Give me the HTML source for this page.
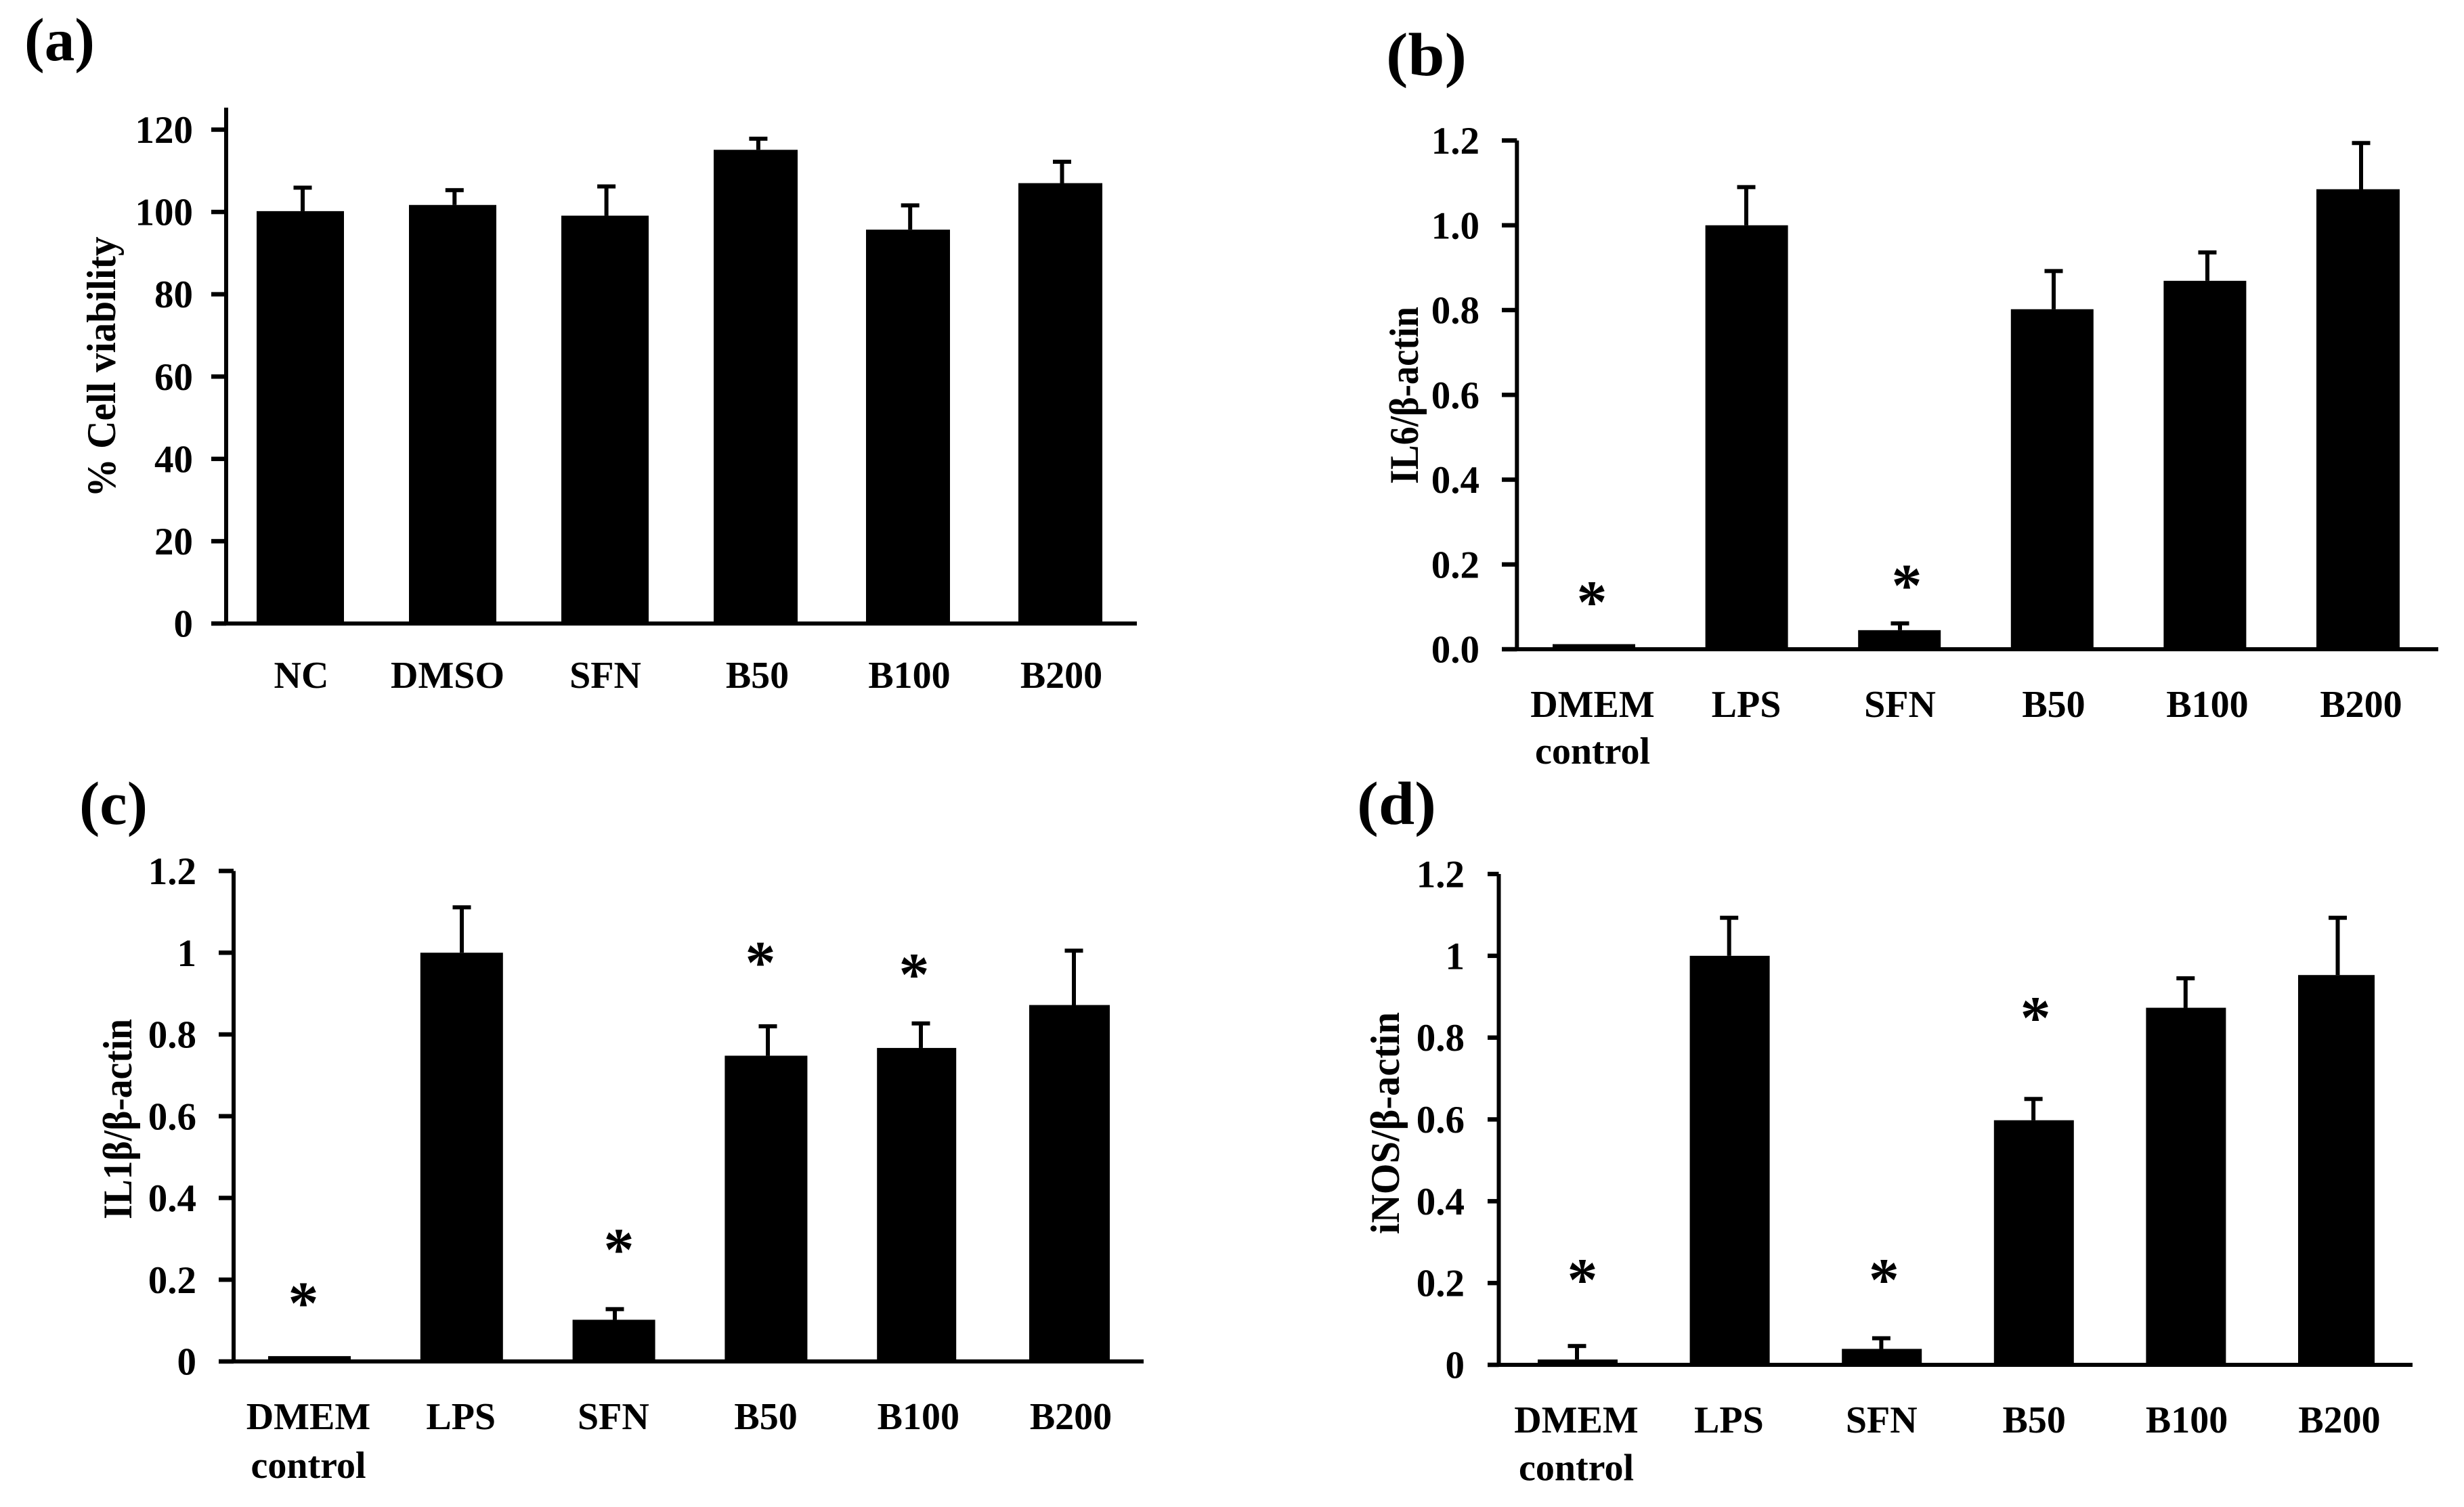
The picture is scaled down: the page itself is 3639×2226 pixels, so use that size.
<!DOCTYPE html>
<html lang="en">
<head>
<meta charset="utf-8">
<title>Bar charts of cell viability and gene expression</title>
<style>
html,body{margin:0;padding:0;background:#fff;}
svg{display:block;}
text{font-family:"Liberation Serif",serif;font-weight:bold;fill:#000;}
</style>
</head>
<body>
<svg id="figure" xmlns="http://www.w3.org/2000/svg" width="3639" height="2226" viewBox="0 0 3639 2226"></svg>
<script>
// Panel (a): % cell viability
const aCategories = ['NC','DMSO','SFN','B50','B100','B200'];
const aValues = [100.2,101.7,99.1,115.1,95.7,107];
const aErrors = [5.7,3.6,7.1,2.7,5.9,5.2];
const aTicks = [0,20,40,60,80,100,120];
const aTickLabels = ['0','20','40','60','80','100','120'];
const aStars = [null,null,null,null,null,null];

// Panel (b): IL6 / beta-actin
const bCategories = ['DMEM|control','LPS','SFN','B50','B100','B200'];
const bValues = [0.012,1.0,0.045,0.802,0.869,1.085];
const bErrors = [0,0.09,0.016,0.09,0.067,0.109];
const bTicks = [0,0.2,0.4,0.6,0.8,1.0,1.2];
const bTickLabels = ['0.0','0.2','0.4','0.6','0.8','1.0','1.2'];
const bStars = [0.127,null,0.166,null,null,null];

// Panel (c): IL1 beta / beta-actin
const cCategories = ['DMEM|control','LPS','SFN','B50','B100','B200'];
const cValues = [0.013,1.0,0.102,0.748,0.767,0.872];
const cErrors = [0,0.111,0.026,0.072,0.06,0.133];
const cTicks = [0,0.2,0.4,0.6,0.8,1,1.2];
const cTickLabels = ['0','0.2','0.4','0.6','0.8','1','1.2'];
const cStars = [0.159,null,0.29,0.992,0.963,null];

// Panel (d): iNOS / beta-actin
const dCategories = ['DMEM|control','LPS','SFN','B50','B100','B200'];
const dValues = [0.013,1.0,0.039,0.598,0.873,0.953];
const dErrors = [0.033,0.093,0.026,0.052,0.072,0.14];
const dTicks = [0,0.2,0.4,0.6,0.8,1,1.2];
const dTickLabels = ['0','0.2','0.4','0.6','0.8','1','1.2'];
const dStars = [0.224,null,0.224,0.865,null,null];

const NS = 'http://www.w3.org/2000/svg';
const figure = document.getElementById('figure');

function makeText(parent, str, x, y, size, anchor, length, rotate) {
  const t = document.createElementNS(NS, 'text');
  t.setAttribute('x', x);
  t.setAttribute('y', y);
  t.setAttribute('font-size', size);
  t.setAttribute('text-anchor', anchor);
  if (length) {
    t.setAttribute('textLength', length);
    t.setAttribute('lengthAdjust', 'spacingAndGlyphs');
  }
  if (rotate) t.setAttribute('transform', 'rotate(-90 ' + x + ' ' + y + ')');
  t.textContent = str;
  parent.appendChild(t);
  return t;
}

function makeRect(parent, x, y, w, h) {
  const r = document.createElementNS(NS, 'rect');
  r.setAttribute('x', x);
  r.setAttribute('y', y);
  r.setAttribute('width', w);
  r.setAttribute('height', h);
  r.setAttribute('fill', '#000');
  parent.appendChild(r);
  return r;
}

function drawPanel(p) {
  const g = document.createElementNS(NS, 'g');
  
  
  figure.appendChild(g);

  const yScale = v => p.baseline - (v / p.maxTick) * (p.baseline - p.topTick);
  const barLeft = i => p.barLeft + i * p.barSlot;
  const stemX = i => p.stem0 + i * p.stemSlot;
  const labelX = i => p.label0 + i * p.labelSlot + (p.labelDx ? p.labelDx[i] : 0);

  const letter = makeText(g, '(' + p.id + ')', p.letterX, p.letterY, 90, 'start', p.letterW);
  
  

  const title = makeText(g, p.title, p.titleX, p.titleY, 60, 'middle', p.titleLen, true);
  
  

  p.values.forEach((v, i) => {
    const top = yScale(v);
    const bar = makeRect(g, barLeft(i), top, p.barWidths[i], p.baseline - top);
    
    

    if (p.errors[i] > 0) {
      const errTop = yScale(v + p.errors[i]);
      const stem = makeRect(g, stemX(i) - 3, errTop, 6, top - errTop);
      
      
      const cap = makeRect(g, stemX(i) - 13.5, errTop - 3, 27, 6);
      
      
    }

    if (p.stars[i] !== null) {
      const star = makeText(g, '*', stemX(i) + p.starDx[i], yScale(p.stars[i]) + 40, 90, 'middle');
      
      
    }

    const parts = p.categories[i].split('|');
    parts.forEach((part, k) => {
      const lab = makeText(g, part, labelX(i), k === 0 ? p.labelY : p.label2Y, 56, 'middle');
      
      
    });
  });

  const yAxis = makeRect(g, p.axisX - 3, p.axisTop, 6, p.baseline - p.axisTop + 3);
  
  

  const xAxis = makeRect(g, p.axisX - 3, p.baseline - 3, p.axisEnd - p.axisX + 3, 6);
  
  

  p.ticks.forEach((t, i) => {
    const y = yScale(t);
    const tick = makeRect(g, p.tickLeft, y - 3.25, p.axisX - p.tickLeft, 6.5);
    
    
    const lab = makeText(g, p.tickLabels[i], p.tickLabelX, y + 19.5, 57, 'end');
    
    
  });
}

drawPanel({
  id:'a', categories:aCategories, values:aValues, errors:aErrors, ticks:aTicks, tickLabels:aTickLabels, stars:aStars,
  maxTick:120, baseline:921, topTick:191.5, axisTop:159, axisX:334, axisEnd:1679, tickLeft:312, tickLabelX:285,
  barLeft:379, barSlot:225, barWidths:[129,129,129,124,124,124],
  stem0:447, stemSlot:224.3, starDx:[0,0,0,0,0,0],
  label0:445, labelSlot:224.5, labelDx:[0,-8.5,0,0,0,0], labelY:1016, label2Y:0,
  letterX:36, letterY:89, letterW:104, title:'% Cell viability', titleX:170, titleY:542, titleLen:385
});
drawPanel({
  id:'b', categories:bCategories, values:bValues, errors:bErrors, ticks:bTicks, tickLabels:bTickLabels, stars:bStars,
  maxTick:1.2, baseline:959, topTick:207.5, axisTop:207.5, axisX:2240.3, axisEnd:3601, tickLeft:2218, tickLabelX:2185,
  barLeft:2293, barSlot:225.6, barWidths:[122,122,122,122,122,123],
  stem0:2352, stemSlot:227, starDx:[-1,0,10,0,0,0],
  label0:2352, labelSlot:227, labelY:1059, label2Y:1128,
  letterX:2047, letterY:111, letterW:119, title:'IL6/β-actin', titleX:2094, titleY:584, titleLen:262
});
drawPanel({
  id:'c', categories:cCategories, values:cValues, errors:cErrors, ticks:cTicks, tickLabels:cTickLabels, stars:cStars,
  maxTick:1.2, baseline:2011, topTick:1286.5, axisTop:1286.5, axisX:345, axisEnd:1689, tickLeft:323, tickLabelX:290,
  barLeft:396, barSlot:224.8, barWidths:[122,122,122,122,117,119],
  stem0:456, stemSlot:226, starDx:[-8,0,6,-11,-10,0],
  label0:455.5, labelSlot:225.2, labelY:2111, label2Y:2183,
  letterX:117, letterY:1217, letterW:101, title:'IL1β/β-actin', titleX:194, titleY:1653, titleLen:296
});
drawPanel({
  id:'d', categories:dCategories, values:dValues, errors:dErrors, ticks:dTicks, tickLabels:dTickLabels, stars:dStars,
  maxTick:1.2, baseline:2016, topTick:1291, axisTop:1291, axisX:2213.5, axisEnd:3563, tickLeft:2197, tickLabelX:2163,
  barLeft:2271, barSlot:224.6, barWidths:[118,118,118,118,118,113],
  stem0:2329, stemSlot:224.7, starDx:[8,0,4,3,0,0],
  label0:2328, labelSlot:225.4, labelY:2116, label2Y:2186.6,
  letterX:2004, letterY:1217, letterW:117, title:'iNOS/β-actin', titleX:2066, titleY:1659, titleLen:328
});
</script>
</body>
</html>
